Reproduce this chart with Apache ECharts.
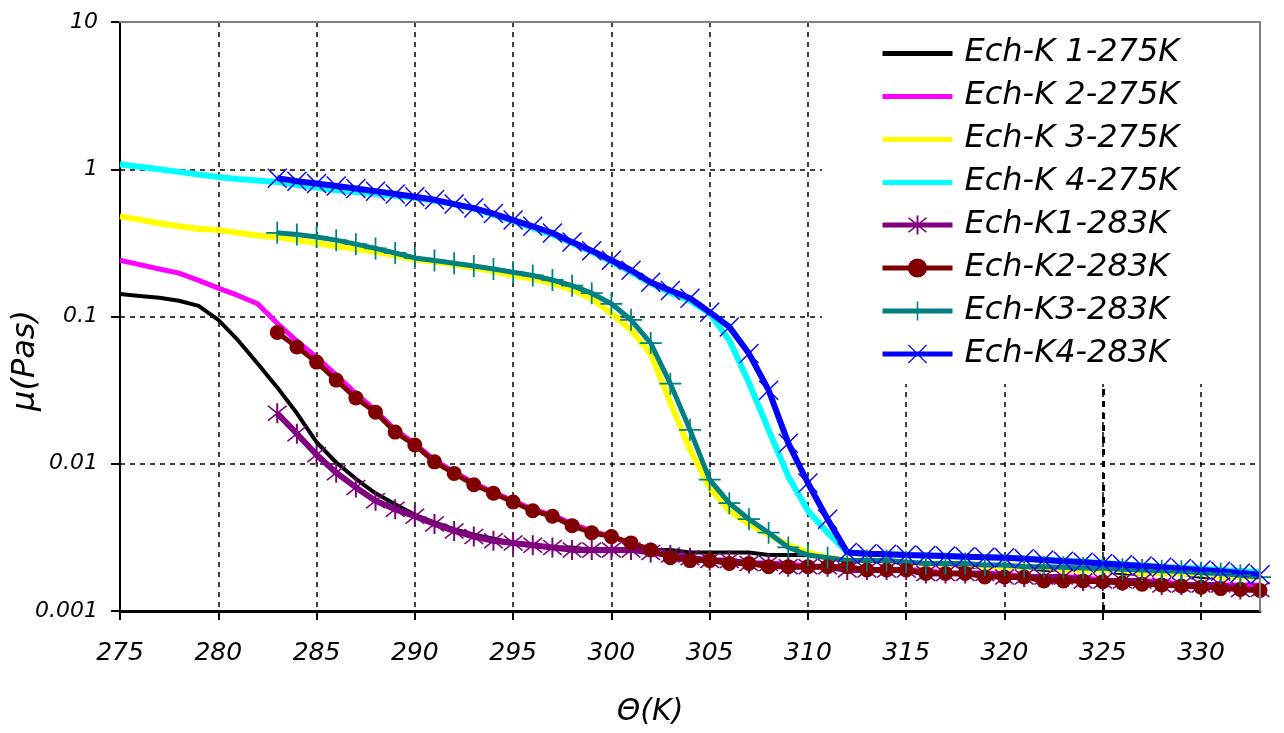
<!DOCTYPE html>
<html>
<head>
<meta charset="utf-8">
<script src="https://cdn.jsdelivr.net/npm/echarts@6/dist/echarts.min.js"></script>
<style>html,body{margin:0;padding:0;background:#fff}#c{width:1284px;height:733px}</style>
</head>
<body>
<div id="c"></div>
<script>
// Temperatures (K)
const temps275 = [275,276,277,278,279,280,281,282,283,284,285,286,287,288,289,290,291,292,293,294,295,296,297,298,299,300,301,302,303,304,305,306,307,308,309,310,311,312,313,314,315,316,317,318,319,320,321,322,323,324,325,326,327,328,329,330,331,332,333];
const temps283 = [283,284,285,286,287,288,289,290,291,292,293,294,295,296,297,298,299,300,301,302,303,304,305,306,307,308,309,310,311,312,313,314,315,316,317,318,319,320,321,322,323,324,325,326,327,328,329,330,331,332,333];

// Viscosity mu (Pa s)
const echK1_275 = [0.142,0.138,0.134,0.128,0.118,0.095,0.069,0.048,0.033,0.022,0.014,0.0102,0.0079,0.0063,0.0053,0.0045,0.0040,0.0036,0.0033,0.0031,0.0029,0.0028,0.0027,0.0027,0.0026,0.0026,0.0026,0.0026,0.0026,0.0025,0.0025,0.0025,0.0025,0.0024,0.0024,0.0024,0.0023,0.0022,0.0022,0.0022,0.0021,0.0021,0.0021,0.0020,0.0020,0.0020,0.0020,0.0019,0.0019,0.0019,0.0019,0.0018,0.0018,0.0018,0.0018,0.0017,0.0017,0.0017,0.0017];
const echK2_275 = [0.241,0.225,0.21,0.197,0.176,0.156,0.139,0.122,0.09,0.068,0.053,0.040,0.030,0.023,0.017,0.0137,0.0106,0.0088,0.0074,0.0064,0.0056,0.0049,0.0045,0.0039,0.0035,0.0032,0.0029,0.0026,0.0024,0.0023,0.0022,0.0022,0.0021,0.0021,0.0021,0.0020,0.0020,0.0020,0.0019,0.0019,0.0019,0.0019,0.0018,0.0018,0.0018,0.0018,0.0017,0.0017,0.0017,0.0017,0.0016,0.0016,0.0016,0.0016,0.0015,0.0015,0.0015,0.0015,0.0015];
const echK3_275 = [0.48,0.455,0.43,0.41,0.395,0.386,0.37,0.355,0.347,0.33,0.316,0.30,0.288,0.275,0.26,0.245,0.235,0.225,0.215,0.203,0.19,0.18,0.168,0.152,0.132,0.105,0.081,0.056,0.026,0.0125,0.0069,0.0048,0.0039,0.0033,0.0028,0.0025,0.0023,0.0022,0.0022,0.0022,0.0021,0.0021,0.0021,0.0021,0.0020,0.0020,0.0020,0.0020,0.0019,0.0019,0.0019,0.0019,0.0018,0.0018,0.0018,0.0018,0.0017,0.0017,0.0017];
const echK4_275 = [1.08,1.04,1.0,0.96,0.92,0.885,0.86,0.84,0.82,0.78,0.75,0.72,0.70,0.68,0.66,0.64,0.61,0.58,0.54,0.49,0.445,0.40,0.36,0.315,0.275,0.235,0.20,0.168,0.145,0.128,0.105,0.069,0.0355,0.017,0.0082,0.0048,0.0034,0.0025,0.00245,0.00243,0.0024,0.00238,0.00236,0.00234,0.00232,0.0023,0.00227,0.00223,0.0022,0.00216,0.00212,0.00208,0.00204,0.002,0.00197,0.00194,0.0019,0.00187,0.00184];
const echK1_283 = [0.022,0.016,0.0115,0.0087,0.0069,0.0056,0.0049,0.0044,0.0039,0.0035,0.0032,0.0030,0.0029,0.0028,0.0027,0.0026,0.0026,0.0026,0.0026,0.0025,0.0024,0.0023,0.0022,0.0022,0.0021,0.0021,0.0020,0.0020,0.0020,0.0019,0.0019,0.0019,0.0019,0.0018,0.0018,0.0018,0.0018,0.0017,0.0017,0.0017,0.0017,0.0016,0.0016,0.0016,0.0016,0.0015,0.0015,0.0015,0.0015,0.0014,0.0014];
const echK2_283 = [0.078,0.062,0.049,0.037,0.028,0.0224,0.0164,0.0134,0.0103,0.0086,0.0072,0.0063,0.0055,0.0048,0.0044,0.0038,0.0034,0.0032,0.0029,0.0026,0.0023,0.0022,0.0022,0.0021,0.0021,0.0020,0.0020,0.0020,0.0020,0.0020,0.0019,0.0019,0.0019,0.0018,0.0018,0.0018,0.0017,0.0017,0.0017,0.0016,0.0016,0.0016,0.00158,0.00155,0.00152,0.0015,0.00148,0.00145,0.00142,0.0014,0.00138];
const echK3_283 = [0.37,0.36,0.347,0.33,0.31,0.29,0.27,0.25,0.24,0.23,0.22,0.21,0.20,0.19,0.177,0.162,0.144,0.122,0.095,0.066,0.035,0.017,0.0078,0.0054,0.0042,0.0034,0.0027,0.0024,0.0023,0.0022,0.0022,0.0022,0.00215,0.0021,0.0021,0.0021,0.00205,0.00205,0.002,0.002,0.00198,0.00196,0.00195,0.00192,0.0019,0.00188,0.00186,0.00182,0.0018,0.00175,0.0017];
const echK4_283 = [0.87,0.83,0.80,0.77,0.74,0.71,0.68,0.65,0.62,0.58,0.545,0.50,0.452,0.41,0.369,0.32,0.28,0.241,0.206,0.171,0.15,0.133,0.107,0.085,0.056,0.0316,0.0138,0.0074,0.0042,0.0025,0.00245,0.00243,0.0024,0.00238,0.00236,0.00234,0.00232,0.0023,0.00226,0.00222,0.00218,0.00214,0.0021,0.00206,0.00202,0.00198,0.00194,0.0019,0.00186,0.00181,0.00176];

const seriesNames = ['Ech-K 1-275K','Ech-K 2-275K','Ech-K 3-275K','Ech-K 4-275K','Ech-K1-283K','Ech-K2-283K','Ech-K3-283K','Ech-K4-283K'];
const seriesColors = ['#000000','#FF00FF','#FFFF00','#00FFFF','#800080','#800000','#008080','#0000FF'];
const xTickLabels = ['275','280','285','290','295','300','305','310','315','320','325','330'];
const boldGridAt = [325];

const FONT = 'DejaVu Sans';
const pair = (xs, ys) => xs.map((x, i) => [x, ys[i]]);

const SYM_ASTER = 'path://M9.2,0H10.8V20H9.2Z M2,3L3,2L18,17L17,18Z M17,2L18,3L3,18L2,17Z';
const SYM_PLUS = 'path://M9.2,0H10.8V20H9.2Z M0,9.2H20V10.8H0Z';
const SYM_X = 'path://M0,1L1,0L20,19L19,20Z M19,0L20,1L1,20L0,19Z';
const ICON_LINE = 'path://M0,0L70,0L70,0Z M0,10H70V15H0Z M0,24L70,24L70,24Z';

function plain(i, data, width, z) {
  return {
    name: seriesNames[i], type: 'line', data: data, symbol: 'none', z: z,
    lineStyle: { color: seriesColors[i], width: width },
    itemStyle: { color: seriesColors[i], borderWidth: 0 },
    emphasis: { disabled: true }
  };
}
function marked(i, data, sym, size, width, z) {
  return {
    name: seriesNames[i], type: 'line', data: data, symbol: sym, symbolSize: size,
    showSymbol: true, showAllSymbol: true, z: z,
    lineStyle: { color: seriesColors[i], width: width },
    itemStyle: { color: seriesColors[i], borderWidth: 0 },
    emphasis: { disabled: true }
  };
}

const s0 = plain(0, pair(temps275, echK1_275), 4, 2);
s0.markLine = {
  silent: true, symbol: 'none', label: { show: false }, z: 1,
  lineStyle: { color: '#000', width: 3, type: [6, 6] },
  data: boldGridAt.map(v => ({ xAxis: v }))
};

const chart = echarts.init(document.getElementById('c'), null, { renderer: 'canvas' });
const option = {
  animation: false,
  backgroundColor: '#ffffff',
  grid: { left: 120, right: 24, top: 22, bottom: 122, show: false, containLabel: false, outerBoundsMode: 'none' },
  xAxis: [{
    type: 'value', min: 275, max: 333, interval: 5,
    axisLine: { lineStyle: { color: '#000', width: 3 } },
    axisTick: { length: 9, lineStyle: { color: '#000', width: 2 } },
    axisLabel: {
      margin: 30, fontSize: 25, fontStyle: 'italic', fontFamily: FONT, color: '#000',
      showMaxLabel: false,
      formatter: v => xTickLabels.indexOf(String(v)) >= 0 ? String(v) : ''
    },
    splitLine: { show: true, lineStyle: { color: '#000', width: 1.5, type: [5, 5] } },
    name: 'Θ(K)', nameLocation: 'middle', nameGap: 86, nameMoveOverlap: false,
    nameTextStyle: { fontSize: 30, fontStyle: 'italic', fontFamily: FONT, color: '#000', padding: [0, 80, 0, 0] }
  }, {
    type: 'value', position: 'top', min: 275, max: 333, z: 6,
    axisLine: { show: true, lineStyle: { color: '#808080', width: 2 } },
    axisTick: { show: false }, axisLabel: { show: false }, splitLine: { show: false }
  }],
  yAxis: [{
    type: 'log', logBase: 10, min: 0.001, max: 10,
    axisLine: { show: true, lineStyle: { color: '#000', width: 2 } },
    axisTick: { show: true, length: 9, lineStyle: { color: '#000', width: 2 } },
    axisLabel: { margin: 22, fontSize: 22, fontStyle: 'italic', fontFamily: FONT, color: '#000' },
    splitLine: { show: true, lineStyle: { color: '#000', width: 1.5, type: [5, 5] } },
    name: 'μ(Pas)', nameLocation: 'middle', nameGap: 78, nameMoveOverlap: false,
    nameTextStyle: { fontSize: 32, fontStyle: 'italic', fontFamily: FONT, color: '#000', padding: [0, 88, 0, 0] }
  }, {
    type: 'log', logBase: 10, min: 0.001, max: 10, position: 'right', z: 6,
    axisLine: { show: true, lineStyle: { color: '#808080', width: 2 } },
    axisTick: { show: false }, axisLabel: { show: false }, splitLine: { show: false }
  }],
  legend: {
    orient: 'vertical', left: 822, top: 22, z: 5,
    padding: [15, 80, 14, 58],
    itemWidth: 70, itemHeight: 24, itemGap: 11,
    backgroundColor: '#ffffff',
    lineStyle: { width: 5 },
    textStyle: { fontSize: 32, fontStyle: 'italic', fontFamily: FONT, color: '#000', padding: [0, 0, 0, 7] },
    data: [
      { name: seriesNames[0], icon: ICON_LINE },
      { name: seriesNames[1], icon: ICON_LINE },
      { name: seriesNames[2], icon: ICON_LINE },
      { name: seriesNames[3], icon: ICON_LINE },
      { name: seriesNames[4] },
      { name: seriesNames[5] },
      { name: seriesNames[6] },
      { name: seriesNames[7] }
    ]
  },
  series: [
    s0,
    plain(1, pair(temps275, echK2_275), 5, 2),
    plain(2, pair(temps275, echK3_275), 6, 2),
    plain(3, pair(temps275, echK4_275), 6, 2),
    marked(4, pair(temps283, echK1_283), SYM_ASTER, 20, 6, 3),
    marked(5, pair(temps283, echK2_283), 'circle', 15, 5, 3),
    marked(6, pair(temps283, echK3_283), SYM_PLUS, 22, 5, 3),
    marked(7, pair(temps283, echK4_283), SYM_X, 20, 6, 3)
  ]
};
chart.setOption(option);
</script>
</body>
</html>
